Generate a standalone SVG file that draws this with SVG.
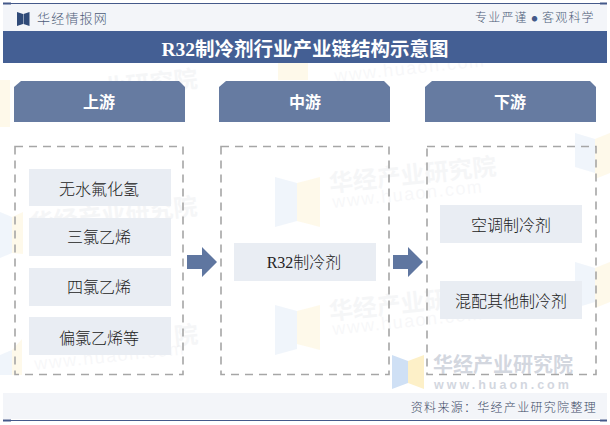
<svg xmlns="http://www.w3.org/2000/svg" width="610" height="425" viewBox="0 0 610 425">
<style>
text{font-family:"Liberation Serif","Noto Sans CJK SC",serif;text-anchor:middle}
.hd{fill:#667ba1}
.dash{fill:none;stroke:#a6a6a6;stroke-width:1.6;stroke-dasharray:8 6}
.item{fill:#e9edf3}
.it{font-size:16px;fill:#222;font-weight:300}
.ht{font-size:16px;fill:#fff;font-weight:700}
.band{fill:#f3f5f9}
.top{font-family:"Noto Sans CJK SC",sans-serif;font-size:12px;fill:#4d5c78;letter-spacing:1.2px;font-weight:300}
.arrow{fill:#5f76a0}
.wm{font-family:"Noto Sans CJK SC",sans-serif;font-weight:700;font-size:24px;fill:#7f8aa0;text-anchor:start;opacity:.07}
.wl{font-family:"Liberation Sans",sans-serif;font-size:18px;letter-spacing:1.500px;fill:#7f8aa0;text-anchor:start;opacity:.06}
.bl{fill:#e3ecf8;opacity:.55}
.yl{fill:#fdf4d8;opacity:.55}
</style>
<rect width="610" height="425" fill="#fff"/>
<g id="watermarks">
<text class="wm" transform="translate(103 97) rotate(-6)">业研究院</text>
<text class="wm" transform="translate(31 232) rotate(-6)">华经产业研究院</text>
<text class="wm" transform="translate(175 345) rotate(-6)">院</text>
<text class="wm" transform="translate(330 192) rotate(-6)">华经产业研究院</text>
<text class="wm" transform="translate(330 320) rotate(-6)">华经产业研</text>
<text class="wl" transform="translate(335 82) rotate(-6)">www.huaon.com</text>
<text class="wl" transform="translate(333 208) rotate(-6)">www.huaon.com</text>
<text class="wl" transform="translate(333 335) rotate(-6)">www.huaon.com</text>
<text class="wl" transform="translate(35 370) rotate(-6)">www.huaon.com</text>
<path class="bl" d="M275 177l22 6v38l-22 6zM275 305l22 6v38l-22 6zM575 133l20 6v34l-20-6zM575 262l20 6v34l-20 6zM0 212l12 5v36l-12 5zM0 355l12-5v25H0z"/>
<path class="yl" d="M297 183l23-6v50l-23-6zM297 311l23-6v45l-23-6zM595 139l15-6v40l-15 6zM595 268l15-6v40l-15 6zM12 217l11-5v42l-11-1zM12 350l10-11v36H12zM0 80h10v47H0zM278 63h30v17h-30z"/>
<path d="M392 355l16 6v22l-16 6z" fill="#cfe0f5"/><path d="M408 361l16-6v34l-16-6z" fill="#fdf0c8"/>
<text x="433" y="372" font-size="20" font-weight="700" style="font-family:'Noto Sans CJK SC',sans-serif;text-anchor:start;fill:#d3d7df">华经产业研究院</text>
<text x="434" y="389" font-size="12.500" font-weight="700" letter-spacing="3" style="font-family:'Liberation Sans',sans-serif;text-anchor:start;fill:#d3d7df">www.huaon.com</text>
</g>
<g id="header">
<rect class="band" x="3" y="4" width="604" height="27"/>
<rect x="3" y="3" width="604" height="1" fill="#44598a"/>
<rect x="3" y="2.500" width="8" height="2" fill="#44598a"/><rect x="600" y="2.500" width="7" height="2" fill="#44598a"/>
<path d="M17 12l6 2v10l-6 2zM29.500 12l-6 2v10l6 2z" fill="#2f4a78"/>
<text class="top" x="37" y="23" style="text-anchor:start;font-size:13px">华经情报网</text>
<text class="top" x="475" y="22" style="text-anchor:start">专业严谨</text>
<text class="top" x="534.500" y="20.500" style="font-size:6px;letter-spacing:0;fill:#44598a">●</text>
<text class="top" x="542" y="22" style="text-anchor:start">客观科学</text>
</g>
<g id="title"><rect x="3" y="31" width="604" height="32" fill="#445f94"/><text x="305" y="56" font-size="19.500" font-weight="700" fill="#fff">R32制冷剂行业产业链结构示意图</text></g>
<g id="footer"><rect class="band" x="3" y="393" width="604" height="26"/>
<rect x="3" y="420" width="604" height="1" fill="#44598a"/><rect x="3" y="419.500" width="8" height="2" fill="#44598a"/><rect x="600" y="419.500" width="7" height="2" fill="#44598a"/>
<text class="top" x="597" y="412" style="text-anchor:end;fill:#3c4a66;letter-spacing:1.300px">资料来源：华经产业研究院整理</text></g>
<g id="upstream">
<path class="hd" d="M21 81H179l6 6v35H14V87z"/><text class="ht" x="99" y="108">上游</text>
<rect class="dash" x="15" y="146.500" width="168" height="228"/>
<rect class="item" x="29" y="169" width="142" height="37"/><text class="it" x="99" y="195">无水氟化氢</text>
<rect class="item" x="29" y="218" width="142" height="38"/><text class="it" x="99" y="243">三氯乙烯</text>
<rect class="item" x="29" y="268" width="142" height="38"/><text class="it" x="99" y="293">四氯乙烯</text>
<rect class="item" x="29" y="317" width="142" height="38"/><text class="it" x="99" y="344">偏氯乙烯等</text>
</g>
<g id="midstream">
<path class="hd" d="M226 81H384l6 6v35H219V87z"/><text class="ht" x="305" y="108">中游</text>
<rect class="dash" x="221" y="146.500" width="168" height="228"/>
<rect class="item" x="234" y="243" width="142" height="38"/><text class="it" x="304" y="268">R32制冷剂</text>
</g>
<g id="downstream">
<path class="hd" d="M432 81H590l6 6v35H425V87z"/><text class="ht" x="510" y="108">下游</text>
<rect class="dash" x="427" y="146.500" width="169" height="228"/>
<rect class="item" x="440" y="205" width="142" height="38"/><text class="it" x="511" y="231">空调制冷剂</text>
<rect class="item" x="440" y="281" width="142" height="38"/><text class="it" x="511" y="307">混配其他制冷剂</text>
</g>
<g id="connectors">
<path class="arrow" d="M187 255h15v-8l15 15-15 15v-8h-15z"/>
<path class="arrow" d="M393 255h15v-8l15 15-15 15v-8h-15z"/>
</g>
</svg>
